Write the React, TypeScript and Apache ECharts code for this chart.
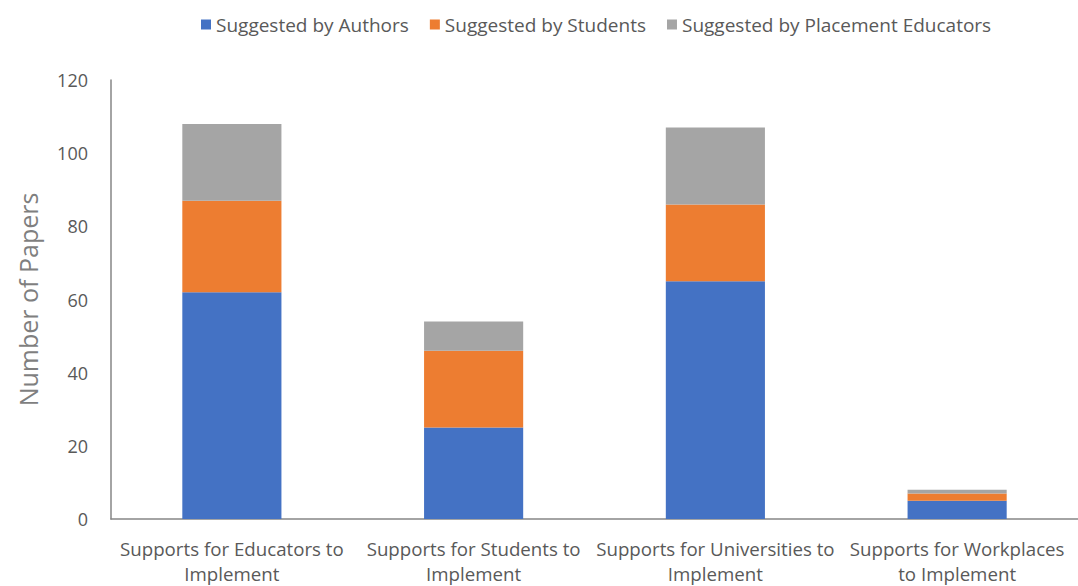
import React, { useEffect, useRef } from "react";
import * as echarts from "echarts";

const categories = [
  "Supports for Educators to\nImplement",
  "Supports for Students to\nImplement",
  "Supports for Universities to\nImplement",
  "Supports for Workplaces\nto Implement",
];

const authors = [62, 25, 65, 5];
const students = [25, 21, 21, 2];
const placementEducators = [21, 8, 21, 1];

const seriesNames = [
  "Suggested by Authors",
  "Suggested by Students",
  "Suggested by Placement Educators",
];

const colors = ["#4472C4", "#ED7D31", "#A5A5A5"];

const FONT = "'Open Sans', Lato, sans-serif";

export default function App() {
  const ref = useRef<HTMLDivElement>(null);

  useEffect(() => {
    if (!ref.current) return;
    const chart = echarts.init(ref.current, undefined, { renderer: "svg" });
    const values = [authors, students, placementEducators];
    chart.setOption({
      animation: false,
      color: colors,
      textStyle: { fontFamily: FONT },
      legend: {
        top: 10,
        left: 196,
        itemWidth: 10,
        itemHeight: 10,
        itemGap: 21,
        icon: "rect",
        textStyle: { fontSize: 19, color: "#595959", fontFamily: FONT },
        data: seriesNames,
      },
      grid: { left: 111, right: 0, top: 80, bottom: 59, containLabel: false },
      xAxis: {
        type: "category",
        data: categories,
        axisLine: { show: true, lineStyle: { color: "#868686", width: 1.5 } },
        axisTick: { show: false },
        axisLabel: {
          fontSize: 18.7,
          color: "#595959",
          margin: 17,
          lineHeight: 25,
          interval: 0,
          fontFamily: FONT,
        },
      },
      yAxis: {
        type: "value",
        min: 0,
        max: 120,
        interval: 20,
        name: "Number of Papers",
        nameLocation: "middle",
        nameGap: 71,
        nameTextStyle: { fontSize: 25, color: "#7F7F7F", fontFamily: FONT },
        axisLine: { show: true, lineStyle: { color: "#868686", width: 1.5 } },
        axisTick: { show: false },
        splitLine: { show: false },
        axisLabel: { fontSize: 18, color: "#595959", margin: 23, fontFamily: FONT },
      },
      series: seriesNames.map((name, i) => ({
        name,
        type: "bar",
        stack: "total",
        barWidth: "41%",
        data: values[i],
        itemStyle: { color: colors[i] },
      })),
    });
    return () => chart.dispose();
  }, []);

  return <div ref={ref} style={{ width: 1078, height: 586, position: "absolute", left: 0, top: 0, background: "#fff" }} />;
}
